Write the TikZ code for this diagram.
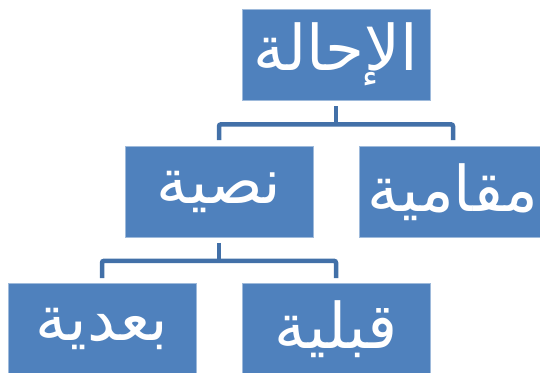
\documentclass[tikz,border=0pt]{standalone}
\usepackage{fontspec}
\newfontfamily\arabicfont[Script=Arabic]{DejaVu Sans}
\TeXXeTstate=1
\usetikzlibrary{calc}
\definecolor{boxblue}{HTML}{4F81BD}
\definecolor{linkblue}{HTML}{4270A8}
\begin{document}
\begin{tikzpicture}[x=1pt,y=-1pt,
  box/.style={fill=boxblue, draw=boxblue!55!white, line width=0.7pt,
    minimum width=188pt, minimum height=91pt, inner sep=0pt, text=white,
    font=\arabicfont\fontsize{63}{70}\selectfont},
  link/.style={draw=linkblue, line width=4.5pt, rounded corners=2pt}]
\useasboundingbox (0,0) rectangle (540,372);
\node[box] (top) at (336,54.5) {\beginR الإحالة\endR};
\node[box] (nas) at (219,192) {\beginR نصية\endR};
\node[box] (maq) at (453,192) {\beginR مقامية\endR};
\node[box] (bad) at (102,329) {\beginR بعدية\endR};
\node[box] (qab) at (336,329) {\beginR قبلية\endR};
% top level connectors
\coordinate (bar1) at ($(top.south)+(0,24)$);
\draw[link] ([yshift=-6pt]top.south) -- (bar1);
\draw[link] ([yshift=6pt]nas.north) |- (bar1) -| ([yshift=6pt]maq.north);
% second level connectors
\coordinate (bar2) at ($(nas.south)+(0,23)$);
\draw[link] ([yshift=-5pt]nas.south) -- (bar2);
\draw[link] ([yshift=5pt]bad.north) |- (bar2) -| ([yshift=5pt]qab.north);
\end{tikzpicture}
\end{document}
